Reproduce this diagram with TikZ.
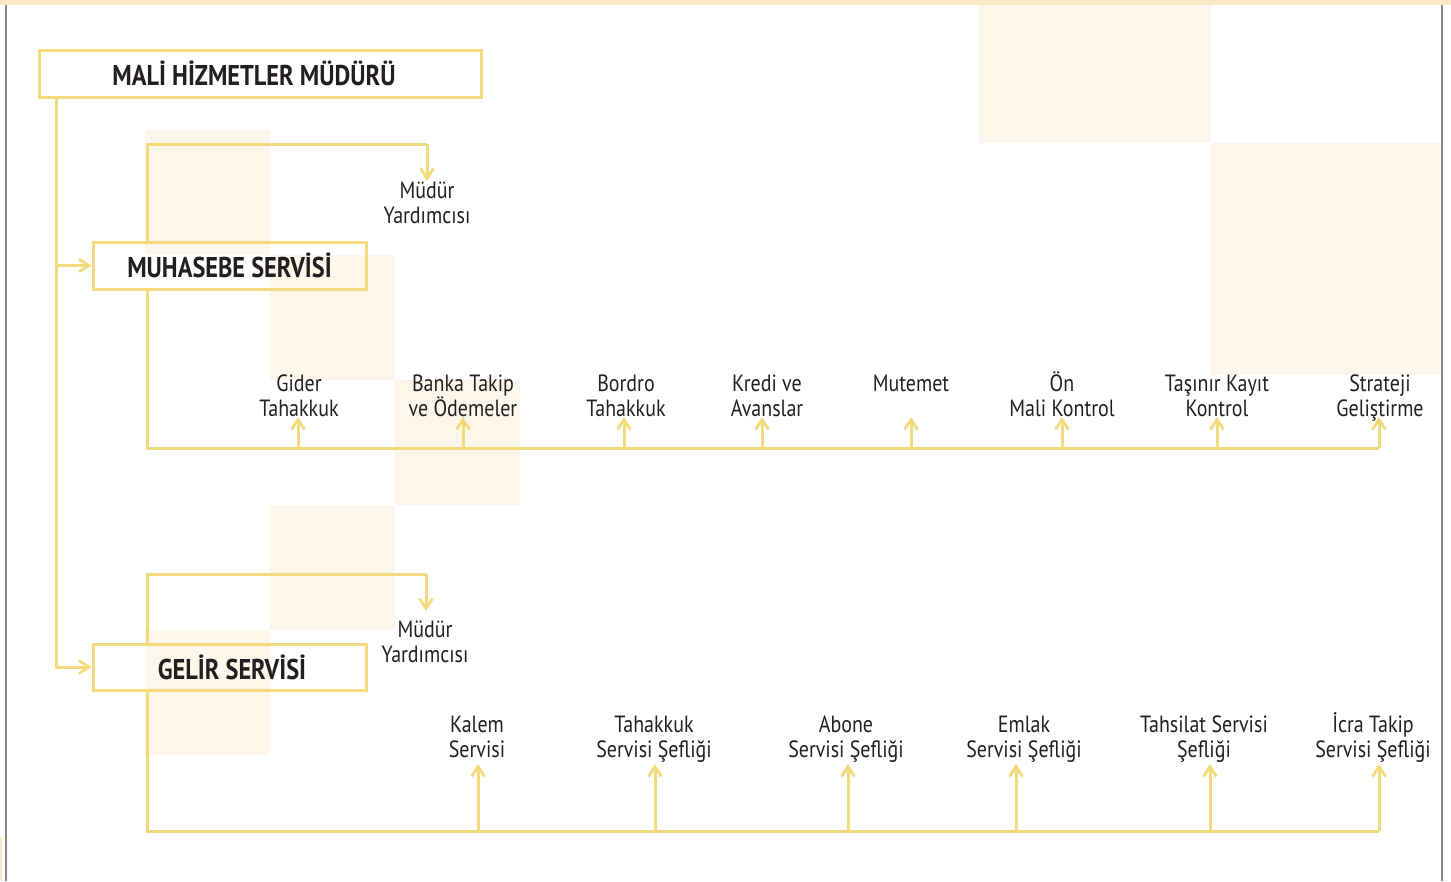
\documentclass[tikz,border=0pt]{standalone}
\usepackage{fontspec}
\setmainfont{PT Sans}[FakeStretch=0.85]
\usetikzlibrary{arrows.meta}
\definecolor{lineY}{HTML}{F2DA7D}
\definecolor{bgY}{HTML}{FCF7EA}
\definecolor{topY}{HTML}{FAEBC6}
\definecolor{greyL}{HTML}{88888C}
\definecolor{txt}{HTML}{231F20}
\newcommand{\fstrut}{\rule{0pt}{20pt}}
\begin{document}
\begin{tikzpicture}[x=1pt,y=-1pt,
  conn/.style={draw=lineY, line width=3pt},
  arr/.style={conn, -{Straight Barb[length=10pt,width=13pt,line width=2.8pt]}},
  headbox/.style={draw=lineY, line width=3pt, inner sep=0pt, text=txt,
    font=\bfseries\fontsize{28.6}{30}\selectfont},
  lbl/.style={align=center, inner sep=0pt, anchor=north, text=txt,
    font=\fontsize{23.5}{25}\selectfont},
  bgsq/.style={fill=bgY, draw=none}]
\useasboundingbox (0,0) rectangle (1451,881);
% background decoration
\fill[topY] (0,0) rectangle (1451,5);
\fill[topY] (0,837) rectangle (2,881);
\path[bgsq] (145,130) rectangle (270,255);
\path[bgsq] (270,255) rectangle (395,380);
\path[bgsq] (395,380) rectangle (520,505);
\path[bgsq] (270,505) rectangle (395,630);
\path[bgsq] (145,630) rectangle (270,755);
\path[bgsq] (979,5) rectangle (1211,143);
\path[bgsq] (1211,143) rectangle (1441,375);
\draw[greyL, line width=2.4pt] (6,5) -- (6,881);
\draw[greyL, line width=2.4pt] (1442,5) -- (1442,881);

% head boxes
\node[headbox, minimum width=442pt, minimum height=47pt] (mh) at (260,73.5) {\hspace*{-12pt}MALİ HİZMETLER MÜDÜRÜ};
\node[headbox, minimum width=273pt, minimum height=47pt] (mu) at (229.5,265.5) {MUHASEBE SERVİSİ};
\node[headbox, minimum width=273pt, minimum height=46pt] (ge) at (229.5,667) {\hspace*{5pt}GELİR SERVİSİ};

% labels
\node[lbl] (my1) at (427,178) {\fstrut Müdür\\Yardımcısı};
\node[lbl] (my2) at (425,617) {\fstrut Müdür\\Yardımcısı};

\node[lbl] (g1) at (299,371) {\fstrut Gider\\Tahakkuk};
\node[lbl] (g2) at (463,371) {\fstrut Banka Takip\\ve Ödemeler};
\node[lbl] (g3) at (626,371) {\fstrut Bordro\\Tahakkuk};
\node[lbl] (g4) at (767,371) {\fstrut Kredi ve\\Avanslar};
\node[lbl] (g5) at (911,371) {\fstrut Mutemet};
\node[lbl] (g6) at (1062,371) {\fstrut Ön\\Mali Kontrol};
\node[lbl] (g7) at (1217,371) {\fstrut Taşınır Kayıt\\Kontrol};
\node[lbl] (g8) at (1380,371) {\fstrut Strateji\\Geliştirme};

\node[lbl] (k1) at (477,712) {\fstrut Kalem\\Servisi};
\node[lbl] (k2) at (654,712) {\fstrut Tahakkuk\\Servisi Şefliği};
\node[lbl] (k3) at (846,712) {\fstrut Abone\\Servisi Şefliği};
\node[lbl] (k4) at (1024,712) {\fstrut Emlak\\Servisi Şefliği};
\node[lbl] (k5) at (1204,712) {\fstrut Tahsilat Servisi\\Şefliği};
\node[lbl] (k6) at (1373,712) {\fstrut İcra Takip\\Servisi Şefliği};

% trunk from director
\coordinate (trunk) at ([xshift=18.5pt]mh.south west);
\draw[arr] (trunk) |- (ge.west);
\draw[arr] (trunk |- mu.west) -- (mu.west);

% Muhasebe: deputy
\coordinate (mutop) at ([xshift=55.5pt]mu.north west);
\coordinate (c1) at (427,144);
\coordinate (t1) at (427,181);
\draw[conn] (mutop) |- (c1);
\draw[arr] (c1) -- (t1);

% Muhasebe bus
\coordinate (mubot) at ([xshift=55.5pt]mu.south west);
\coordinate (mbE) at (1379,448);
\draw[conn] (mubot) |- (mbE);
\foreach \n/\x in {1/298,2/463,3/624,4/762,5/911,6/1062,7/1217,8/1379}{
  \coordinate (mb\n) at (\x,448);
  \coordinate (mt\n) at (\x,417);
  \draw[arr] (mb\n) -- (mt\n);
}

% Gelir: deputy
\coordinate (getop) at ([xshift=55.5pt]ge.north west);
\coordinate (c2) at (426,574);
\coordinate (t2) at (426,611);
\draw[conn] (getop) |- (c2);
\draw[arr] (c2) -- (t2);

% Gelir bus
\coordinate (gebot) at ([xshift=55.5pt]ge.south west);
\coordinate (gbE) at (1379,831);
\draw[conn] (gebot) |- (gbE);
\foreach \n/\x in {1/478,2/655,3/848,4/1016,5/1210,6/1379}{
  \coordinate (gb\n) at (\x,831);
  \coordinate (gt\n) at (\x,764);
  \draw[arr] (gb\n) -- (gt\n);
}
\end{tikzpicture}
\end{document}
